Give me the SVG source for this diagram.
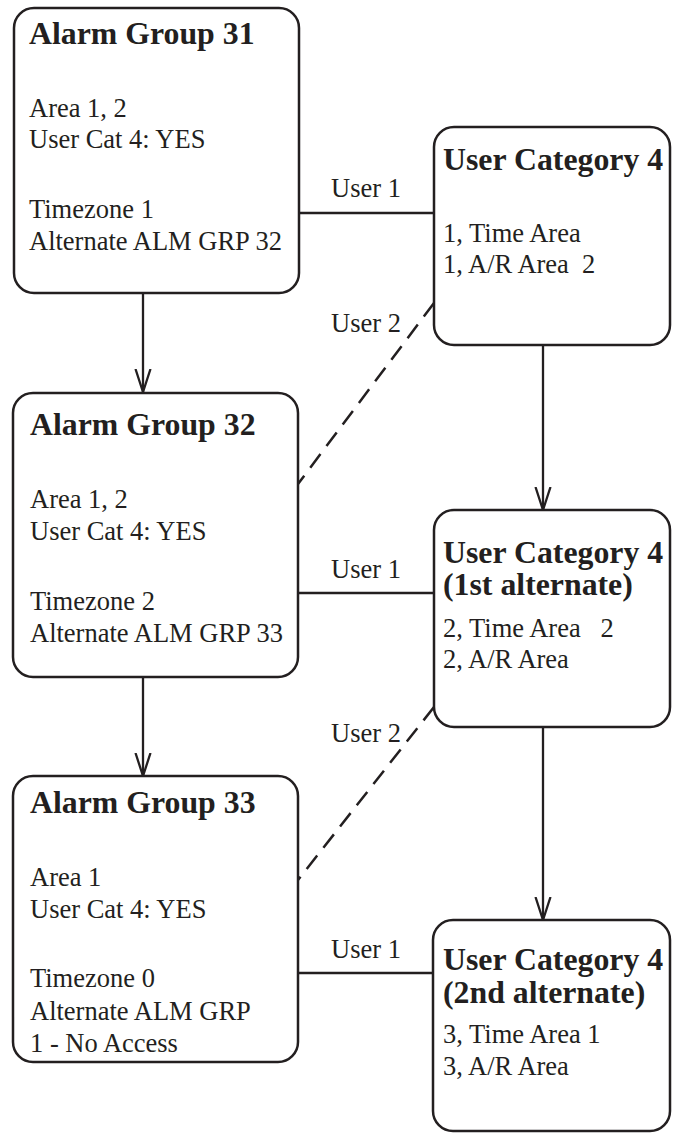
<svg xmlns="http://www.w3.org/2000/svg" width="673" height="1133" viewBox="0 0 673 1133">
<style>
.box{fill:#fff;stroke:#231f20;stroke-width:2.5}
.t{font-family:"Liberation Serif","Times New Roman",serif;font-weight:bold;font-size:31.8px;fill:#231f20}
.b{font-family:"Liberation Serif","Times New Roman",serif;font-size:26.5px;fill:#231f20}
.c{stroke:#231f20;stroke-width:2.3;fill:none}
.d{stroke-dasharray:17 10;stroke-width:2.5}
</style>
<defs>
<marker id="arr" viewBox="0 0 24 18" refX="23" refY="9" markerWidth="24" markerHeight="18" markerUnits="userSpaceOnUse" orient="auto">
<path d="M0,1.5 L23,9 L0,16.5" fill="none" stroke="#231f20" stroke-width="2.3"/>
</marker>
</defs>
<rect width="673" height="1133" fill="#fff"/>
<g id="connectors">
<line class="c" x1="143" y1="293" x2="143" y2="392" marker-end="url(#arr)"/>
<line class="c" x1="143" y1="677" x2="143" y2="776" marker-end="url(#arr)"/>
<line class="c" x1="543" y1="345" x2="543" y2="510" marker-end="url(#arr)"/>
<line class="c" x1="543" y1="727" x2="543" y2="920" marker-end="url(#arr)"/>
<line class="c" x1="299" y1="213" x2="434" y2="213"/>
<line class="c" x1="298" y1="593" x2="434" y2="593"/>
<line class="c" x1="298" y1="973" x2="433" y2="973"/>
<line class="c d" x1="434" y1="303" x2="298" y2="484"/>
<line class="c d" x1="434" y1="707" x2="298" y2="880"/>
<text class="b" x="331" y="197">User 1</text>
<text class="b" x="331" y="332">User 2</text>
<text class="b" x="331" y="578">User 1</text>
<text class="b" x="331" y="742">User 2</text>
<text class="b" x="331" y="958">User 1</text>
</g>
<g id="ag31">
<rect class="box" x="14" y="8" width="285" height="285" rx="20"/>
<text class="t" x="29" y="44">Alarm Group 31</text>
<text class="b" x="29" y="117">Area 1, 2</text>
<text class="b" x="29" y="148">User Cat 4: YES</text>
<text class="b" x="29" y="218">Timezone 1</text>
<text class="b" x="29" y="250">Alternate ALM GRP 32</text>
</g>
<g id="ag32">
<rect class="box" x="13" y="393" width="285" height="284" rx="20"/>
<text class="t" x="30" y="435">Alarm Group 32</text>
<text class="b" x="30" y="508">Area 1, 2</text>
<text class="b" x="30" y="540">User Cat 4: YES</text>
<text class="b" x="30" y="610">Timezone 2</text>
<text class="b" x="30" y="642">Alternate ALM GRP 33</text>
</g>
<g id="ag33">
<rect class="box" x="13" y="776" width="285" height="286" rx="20"/>
<text class="t" x="30" y="813">Alarm Group 33</text>
<text class="b" x="30" y="886">Area 1</text>
<text class="b" x="30" y="918">User Cat 4: YES</text>
<text class="b" x="30" y="987">Timezone 0</text>
<text class="b" x="30" y="1020">Alternate ALM GRP</text>
<text class="b" x="30" y="1052">1 - No Access</text>
</g>
<g id="uc4">
<rect class="box" x="434" y="127" width="236" height="218" rx="20"/>
<text class="t" x="443" y="170">User Category 4</text>
<text class="b" x="443" y="242">1, Time Area</text>
<text class="b" x="443" y="273" xml:space="preserve">1, A/R Area  2</text>
</g>
<g id="uc4-1st">
<rect class="box" x="434" y="510" width="236" height="217" rx="20"/>
<text class="t" x="443" y="563">User Category 4</text>
<text class="t" x="443" y="595">(1st alternate)</text>
<text class="b" x="443" y="637" xml:space="preserve">2, Time Area   2</text>
<text class="b" x="443" y="668">2, A/R Area</text>
</g>
<g id="uc4-2nd">
<rect class="box" x="433" y="920" width="237" height="211" rx="20"/>
<text class="t" x="443" y="970">User Category 4</text>
<text class="t" x="443" y="1003">(2nd alternate)</text>
<text class="b" x="443" y="1043">3, Time Area 1</text>
<text class="b" x="443" y="1075">3, A/R Area</text>
</g>
</svg>
